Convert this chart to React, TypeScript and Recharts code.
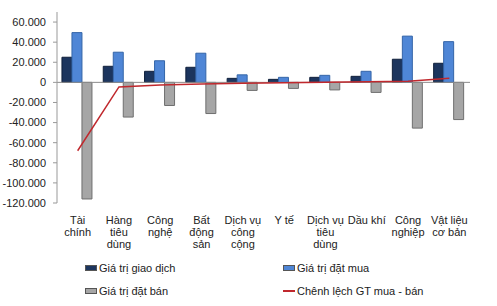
import React from 'react';
import { ComposedChart, Bar, Line, XAxis, YAxis, ReferenceLine, Legend } from 'recharts';

const categories = [
  'Tài\nchính',
  'Hàng\ntiêu\ndùng',
  'Công\nnghệ',
  'Bất\nđộng\nsản',
  'Dịch vụ\ncông\ncộng',
  'Y tế',
  'Dịch vụ\ntiêu\ndùng',
  'Dầu khí',
  'Công\nnghiệp',
  'Vật liệu\ncơ bản',
];

const giaoDich = [25000, 16000, 11000, 15000, 4000, 3000, 5000, 6000, 23000, 19000];
const datMua = [49500, 30000, 21500, 29000, 7500, 5000, 7000, 11000, 46000, 40500];
const datBan = [-116000, -34500, -23000, -31000, -8000, -6000, -7500, -10000, -45500, -37000];
const chenhLech = [-68000, -4500, -2500, -1500, -1000, -500, 0, 500, 1000, 4000];

const yTicks = [-120000, -100000, -80000, -60000, -40000, -20000, 0, 20000, 40000, 60000];

const data = categories.map((name, i) => ({
  name,
  giaoDich: giaoDich[i],
  datMua: datMua[i],
  datBan: datBan[i],
  chenhLech: chenhLech[i],
}));

const legendItems = [
  { label: 'Giá trị giao dịch', color: '#1c355e', type: 'bar' },
  { label: 'Giá trị đặt mua', color: '#4f86d6', type: 'bar' },
  { label: 'Giá trị đặt bán', color: '#a6a6a6', type: 'bar' },
  { label: 'Chênh lệch GT mua - bán', color: '#c0282d', type: 'line' },
];

const fmt = (v: number) => {
  const s = Math.abs(v).toString().replace(/\B(?=(\d{3})+(?!\d))/g, '.');
  return v < 0 ? '-' + s : s;
};

function CategoryTick(props: any) {
  const { x, y, payload } = props;
  const lines = String(payload.value).split('\n');
  return (
    <text x={x} y={y} textAnchor="middle" fontSize={11} fill="#222" fontFamily="Liberation Sans, Arial, sans-serif">
      {lines.map((l, i) => (
        <tspan key={i} x={x} dy={i === 0 ? 13 : 12}>{l}</tspan>
      ))}
    </text>
  );
}

function LegendBox() {
  return (
    <div style={{ display: 'grid', gridTemplateColumns: '198px 200px', rowGap: 10, marginLeft: 85, paddingTop: 5, fontSize: 11, color: '#222', fontFamily: 'Liberation Sans, Arial, sans-serif' }}>
      {legendItems.map((it) => (
        <div key={it.label} style={{ display: 'flex', alignItems: 'center', height: 13 }}>
          {it.type === 'bar' ? (
            <span style={{ width: 12, height: 6, background: it.color, border: '1px solid #555', boxSizing: 'border-box', marginRight: 2 }} />
          ) : (
            <span style={{ width: 12, height: 2, background: it.color, marginRight: 2 }} />
          )}
          {it.label}
        </div>
      ))}
    </div>
  );
}

export default function App() {
  return (
    <div style={{ position: 'absolute', left: 0, top: 0, background: '#fff' }}>
      <ComposedChart
        width={497}
        height={306}
        data={data}
        margin={{ top: 12, right: 27, bottom: 0, left: 0 }}
        barCategoryGap="12%"
        barGap={0}
      >
        <XAxis dataKey="name" axisLine={false} tickLine={false} tick={<CategoryTick />} height={53} interval={0} />
        <YAxis
          width={57}
          domain={[-120000, 70000]}
          ticks={yTicks}
          tickFormatter={fmt}
          tickSize={4}
          tickMargin={7}
          axisLine={{ stroke: '#999' }}
          tickLine={{ stroke: '#999' }}
          tick={{ fontSize: 11, fill: '#222', fontFamily: 'Liberation Sans, Arial, sans-serif' }}
        />
        <ReferenceLine y={0} stroke="#8c8c8c" />
        <Bar dataKey="giaoDich" fill="#1c355e" stroke="#0f1f3a" isAnimationActive={false} />
        <Bar dataKey="datMua" fill="#4f86d6" stroke="#3465a8" isAnimationActive={false} />
        <Bar dataKey="datBan" fill="#a6a6a6" stroke="#6f6f6f" isAnimationActive={false} />
        <Line dataKey="chenhLech" stroke="#c0282d" strokeWidth={1.5} dot={false} type="linear" isAnimationActive={false} />
        <Legend verticalAlign="bottom" content={<LegendBox />} wrapperStyle={{ height: 50, boxSizing: 'border-box' }} />
      </ComposedChart>
    </div>
  );
}
